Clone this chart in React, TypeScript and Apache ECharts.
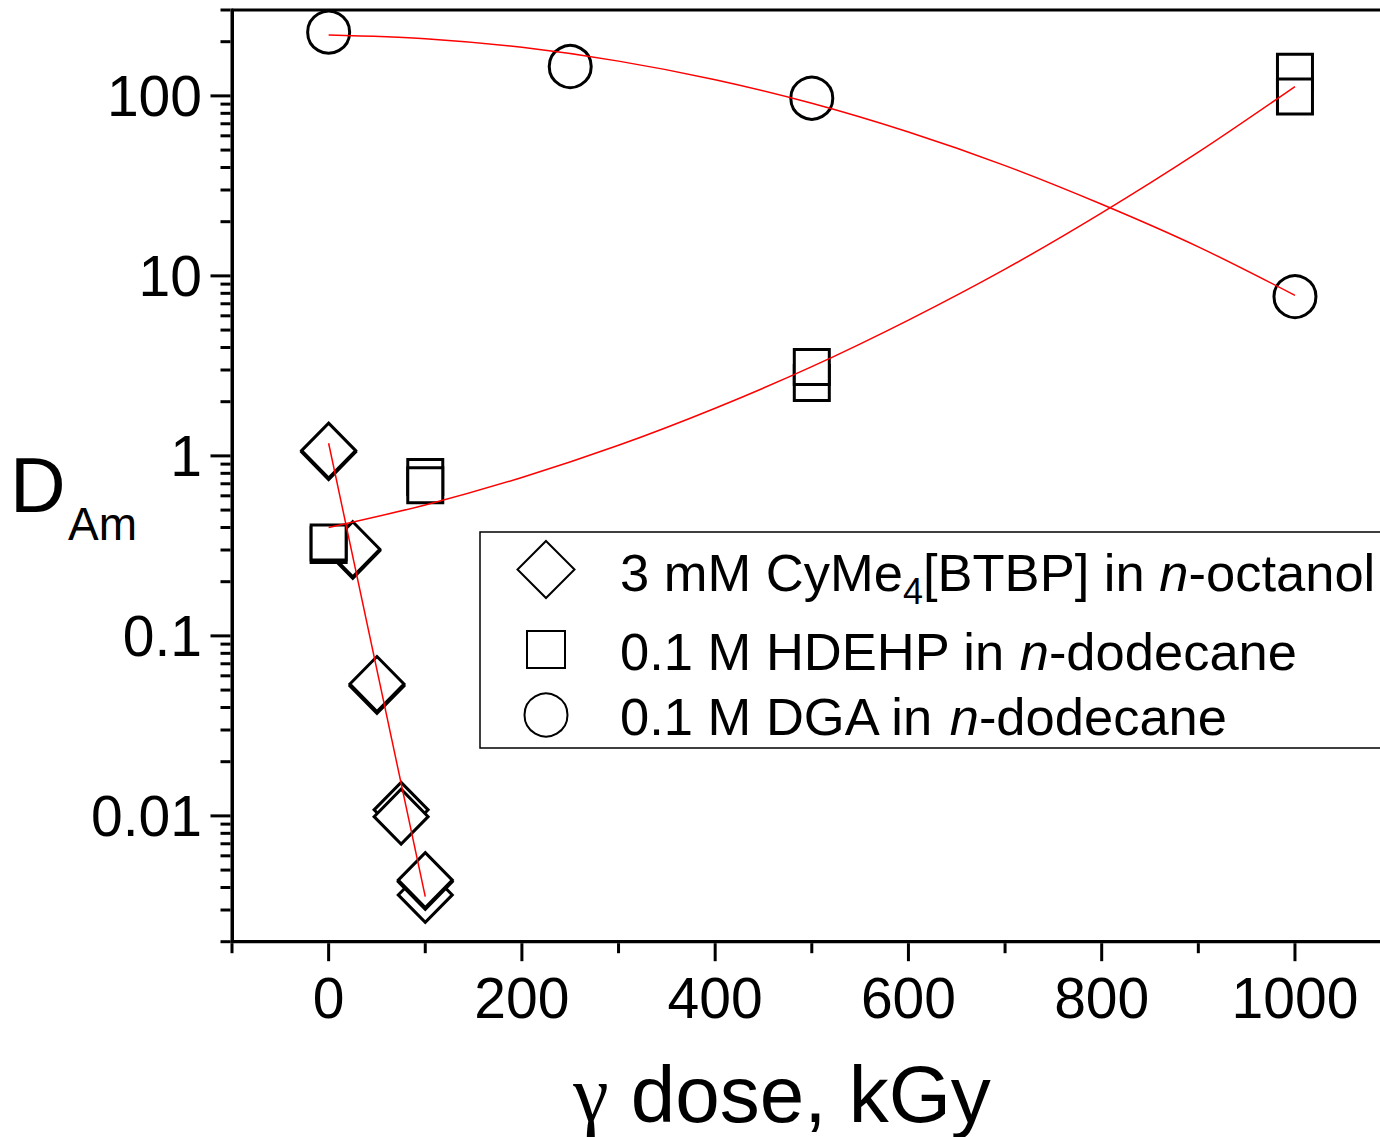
import React, { useEffect, useRef } from "react";
import * as echarts from "echarts";

// ---- data ----
const btbpPoints: [number, number][] = [
  [0, 1.05], [0, 1.07], [25, 0.297], [25, 0.303], [50, 0.0527], [50, 0.054],
  [75, 0.0108], [75, 0.0099], [100, 0.00364], [100, 0.0043], [100, 0.0044],
];
const hdehpPoints: [number, number][] = [
  [0, 0.32], [0, 0.33], [100, 0.764], [100, 0.686], [500, 2.54], [500, 3.12],
  [1000, 136], [1000, 99.3],
];
const dgaPoints: [number, number][] = [
  [0, 226], [250, 145.5], [500, 97.1], [1000, 7.67],
];
const btbpFit: [number, number][] = [[0, 1.175], [100, 0.00356]];
const hdehpFit: [number, number][] = [
  [0, 0.4], [100, 0.534], [200, 0.759], [300, 1.145], [400, 1.84], [500, 3.13],
  [600, 5.68], [700, 10.9], [800, 22.4], [900, 48.7], [1000, 112.7],
];
const dgaFit: [number, number][] = [
  [0, 218], [100, 208], [200, 186], [300, 156], [400, 123], [500, 91],
  [600, 63], [700, 41], [800, 25], [900, 14.5], [1000, 7.8],
];

// ---- axes ----
const X_MIN = -100;
const X_MAX = 1100;
const Y_MIN = 0.002;
const Y_MAX = 300;
const xLabelValues = [0, 200, 400, 600, 800, 1000];
const xMinorTickValues = [-100, 100, 300, 500, 700, 900];
const yLabelValues = [0.01, 0.1, 1, 10, 100];
const yLabelTexts = ["0.01", "0.1", "1", "10", "100"];
const yMinorMultipliers = [2, 3, 4, 5, 6, 7, 8, 9];
const yMinorDecades = [0.001, 0.01, 0.1, 1, 10, 100];

const legendTexts = [
  "{n|3 mM CyMe}{sub|4}{n|[BTBP] in }{it|n}{n|-octanol}",
  "{n|0.1 M HDEHP in }{it|n}{n|-dodecane}",
  "{n|0.1 M DGA in }{it|n}{n|-dodecane}",
];

const FONT = "'Liberation Sans', Arial, Helvetica, sans-serif";

export default function App() {
  const ref = useRef<HTMLDivElement>(null);

  useEffect(() => {
    if (!ref.current) return;
    const chart = echarts.init(ref.current, null, { renderer: "svg" });

    const yMinor: number[] = [];
    yMinorDecades.forEach((d) =>
      yMinorMultipliers.forEach((m) => {
        const v = +(m * d).toPrecision(3);
        if (v >= Y_MIN && v <= Y_MAX) yMinor.push(v);
      })
    );

    const markerStyle = {
      color: "#fff",
      borderColor: "#000",
      borderWidth: 3,
      opacity: 1,
    };
    const tickStyle = { color: "#000", opacity: 1 };
    const richBase = { fontSize: 52.5, fontFamily: FONT, lineHeight: 53, fill: "#000" };

    const option: any = {
      animation: false,
      backgroundColor: "#fff",
      grid: {
        left: 232,
        right: 28.4,
        top: 10,
        bottom: 195.3,
        containLabel: false,
        outerBoundsMode: "none",
        show: true,
        borderColor: "#000",
        borderWidth: 3,
        backgroundColor: "transparent",
      },
      xAxis: {
        type: "value",
        min: X_MIN,
        max: X_MAX,
        interval: 100,
        axisLine: { show: true, onZero: false, lineStyle: { color: "#000", width: 3 } },
        axisTick: { show: false },
        splitLine: { show: false },
        axisLabel: {
          show: true,
          margin: 28,
          fontSize: 57,
          fontFamily: FONT,
          color: "#000",
          showMaxLabel: false,
          formatter: (v: number) =>
            xLabelValues.some((t) => Math.abs(t - v) < 1e-6) ? String(Math.round(v)) : "",
        },
      },
      yAxis: {
        type: "log",
        logBase: 10,
        min: Y_MIN,
        max: Y_MAX,
        axisLine: { show: true, onZero: false, lineStyle: { color: "#000", width: 3 } },
        axisTick: { show: false },
        minorTick: { show: false },
        splitLine: { show: false },
        axisLabel: {
          show: true,
          margin: 30,
          fontSize: 57,
          fontFamily: FONT,
          color: "#000",
          showMinLabel: false,
          showMaxLabel: false,
          formatter: (v: number) => {
            const i = yLabelValues.findIndex(
              (t) => Math.abs(Math.log10(t) - Math.log10(v)) < 1e-6
            );
            return i >= 0 ? yLabelTexts[i] : "";
          },
        },
      },
      series: [
        // axis ticks drawn through the scales
        {
          type: "scatter", silent: true, clip: false, z: 5,
          symbol: "rect", symbolSize: [20, 3], symbolOffset: [-11.5, 0],
          itemStyle: tickStyle,
          data: yLabelValues.map((v) => [X_MIN, v]),
        },
        {
          type: "scatter", silent: true, clip: false, z: 5,
          symbol: "rect", symbolSize: [10, 3], symbolOffset: [-6.5, 0],
          itemStyle: tickStyle,
          data: yMinor.map((v) => [X_MIN, v]),
        },
        {
          type: "scatter", silent: true, clip: false, z: 5,
          symbol: "rect", symbolSize: [3, 18], symbolOffset: [0, 10.5],
          itemStyle: tickStyle,
          data: xLabelValues.map((v) => [v, Y_MIN]),
        },
        {
          type: "scatter", silent: true, clip: false, z: 5,
          symbol: "rect", symbolSize: [3, 10], symbolOffset: [0, 6.5],
          itemStyle: tickStyle,
          data: xMinorTickValues.map((v) => [v, Y_MIN]),
        },
        // data markers
        {
          name: "3 mM CyMe4[BTBP] in n-octanol",
          type: "scatter", clip: false, z: 2, silent: true,
          symbol: "diamond", symbolSize: [54, 55],
          itemStyle: markerStyle,
          data: btbpPoints,
        },
        {
          name: "0.1 M HDEHP in n-dodecane",
          type: "scatter", clip: false, z: 2, silent: true,
          symbol: "rect", symbolSize: 35,
          itemStyle: markerStyle,
          data: hdehpPoints,
        },
        {
          name: "0.1 M DGA in n-dodecane",
          type: "scatter", clip: false, z: 2, silent: true,
          symbol: "circle", symbolSize: 42,
          itemStyle: markerStyle,
          data: dgaPoints,
        },
        // fit lines
        {
          type: "line", z: 3, silent: true, symbol: "none", showSymbol: false,
          lineStyle: { color: "#ff0000", width: 1.5 },
          data: btbpFit,
        },
        {
          type: "line", z: 3, silent: true, symbol: "none", showSymbol: false, smooth: 0.3,
          lineStyle: { color: "#ff0000", width: 1.5 },
          data: hdehpFit,
        },
        {
          type: "line", z: 3, silent: true, symbol: "none", showSymbol: false, smooth: 0.3,
          lineStyle: { color: "#ff0000", width: 1.5 },
          data: dgaFit,
        },
      ],
      graphic: [
        {
          type: "rect", z: 10,
          shape: { x: 480, y: 532, width: 940, height: 216 },
          style: { fill: "#fff", stroke: "#000", lineWidth: 1.5 },
        },
        {
          type: "polygon", z: 11,
          shape: { points: [[546, 541], [574.5, 569.5], [546, 598], [517.5, 569.5]] },
          style: { fill: "none", stroke: "#000", lineWidth: 2 },
        },
        {
          type: "rect", z: 11,
          shape: { x: 527, y: 631, width: 38, height: 37 },
          style: { fill: "none", stroke: "#000", lineWidth: 2 },
        },
        {
          type: "circle", z: 11,
          shape: { cx: 546, cy: 715, r: 21.5 },
          style: { fill: "none", stroke: "#000", lineWidth: 2 },
        },
        {
          type: "text", z: 11, x: 620, y: 545.5,
          style: {
            text: legendTexts[0],
            align: "left",
            verticalAlign: "top",
            fill: "#000",
            rich: {
              n: { ...richBase, verticalAlign: "top" },
              it: { ...richBase, fontStyle: "italic", verticalAlign: "top" },
              sub: {
                fontSize: 36, fontFamily: FONT, lineHeight: 36, fill: "#000",
                verticalAlign: "top", padding: [28, 0, 0, 0],
              },
            },
          },
        },
        {
          type: "text", z: 11, x: 620, y: 651,
          style: {
            text: legendTexts[1],
            align: "left",
            verticalAlign: "middle",
            fill: "#000",
            rich: { n: richBase, it: { ...richBase, fontStyle: "italic" } },
          },
        },
        {
          type: "text", z: 11, x: 620, y: 716,
          style: {
            text: legendTexts[2],
            align: "left",
            verticalAlign: "middle",
            fill: "#000",
            rich: { n: richBase, it: { ...richBase, fontStyle: "italic" } },
          },
        },
        {
          type: "text", x: 10, y: 485,
          style: { text: "D", fontSize: 77, fontFamily: FONT, fill: "#000", verticalAlign: "middle", align: "left" },
        },
        {
          type: "text", x: 68, y: 524,
          style: { text: "Am", fontSize: 46, fontFamily: FONT, fill: "#000", verticalAlign: "middle", align: "left" },
        },
        {
          type: "text", x: 782, y: 1094,
          style: {
            text: "{g|γ}{t| dose, kGy}",
            align: "center",
            verticalAlign: "middle",
            fill: "#000",
            rich: {
              g: { fontSize: 80, fontFamily: "'Liberation Serif', 'Times New Roman', serif", fill: "#000" },
              t: { fontSize: 80, fontFamily: FONT, fill: "#000" },
            },
          },
        },
      ],
    };

    chart.setOption(option);
    return () => chart.dispose();
  }, []);

  return (
    <div
      style={{
        position: "absolute",
        left: 0,
        top: 0,
        width: 1380,
        height: 1137,
        overflow: "hidden",
        background: "#fff",
      }}
    >
      <div ref={ref} style={{ width: 1420, height: 1137 }} />
    </div>
  );
}
